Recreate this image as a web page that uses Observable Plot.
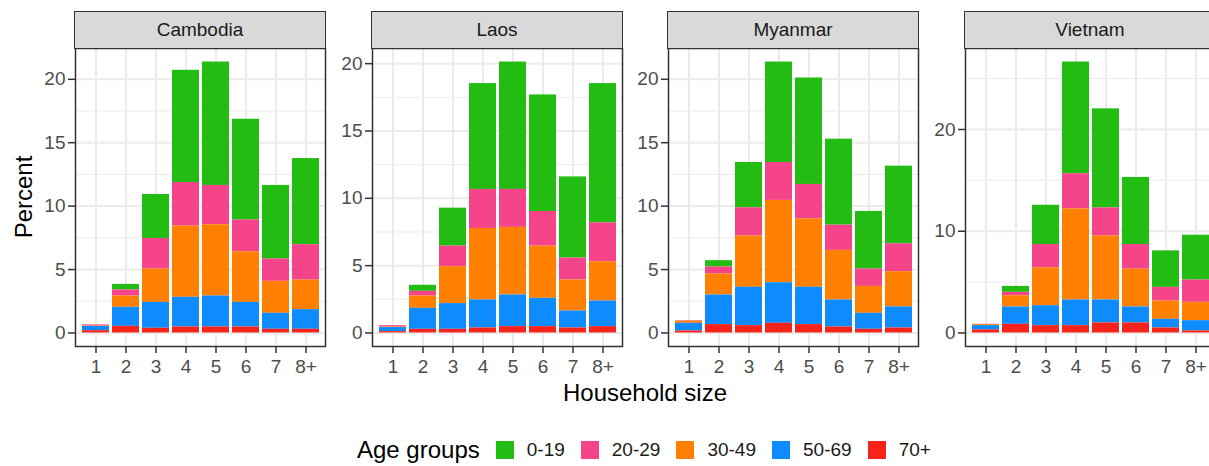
<!DOCTYPE html>
<html>
<head>
<meta charset="utf-8">
<script src="https://cdn.jsdelivr.net/npm/d3@7"></script>
<script src="https://cdn.jsdelivr.net/npm/@observablehq/plot@0.6"></script>
<style>
  html, body { margin: 0; padding: 0; background: #fff; }
  #chart { position: relative; width: 1209px; height: 466px; overflow: hidden; background: #fff;
           font-family: "Liberation Sans", Arial, Helvetica, sans-serif; }
  .panel { position: absolute; }
  .strip { position: absolute; box-sizing: border-box; height: 38px; background: #D9D9D9;
           border: 1.4px solid #333; color: #1A1A1A; font-size: 19px;
           display: flex; align-items: center; justify-content: center; }
  .ytitle { position: absolute; left: 24px; top: 197px; font-size: 24px; color: #000;
            transform: translate(-50%, -50%) rotate(-90deg); white-space: nowrap; }
  .xtitle { position: absolute; left: 645px; top: 393px; font-size: 24px; color: #000;
            transform: translate(-50%, -50%); white-space: nowrap; }
  .legend { position: absolute; left: 357px; top: 437px; display: flex; align-items: center; }
  .legend-title { font-size: 24px; line-height: 26px; color: #000; margin-right: 16px; white-space: nowrap; }
  .agelg-swatches { margin: 0 !important; min-height: 0 !important; }
  .agelg-swatch { margin-right: 16px !important; }
  .agelg-swatch > svg { margin-right: 13px !important; }
</style>
</head>
<body>
<div id="chart"></div>
<script>
// Household size categories and age groups (legend order, top of stack first)
const countries = ["Cambodia", "Laos", "Myanmar", "Vietnam"];
const sizes = ["1", "2", "3", "4", "5", "6", "7", "8+"];
const ageGroups = ["0-19", "20-29", "30-49", "50-69", "70+"];
const ageColors = ["#23BC13", "#F6448A", "#FF7F00", "#0E8BFF", "#F5231A"];
// stacking order, bottom to top
const stackOrder = ["70+", "50-69", "30-49", "20-29", "0-19"];

// Percent of population by age group (rows follow ageGroups) and household size (columns follow sizes)
const cambodia = [
  [0.01, 0.44, 3.47, 8.85, 9.73, 7.95, 5.80, 6.79],
  [0.09, 0.48, 2.41, 3.43, 3.10, 2.50, 1.76, 2.79],
  [0.03, 0.89, 2.63, 5.62, 5.62, 3.99, 2.52, 2.33],
  [0.33, 1.50, 2.04, 2.34, 2.44, 1.94, 1.26, 1.55],
  [0.18, 0.52, 0.37, 0.47, 0.47, 0.47, 0.29, 0.29]
];
const laos = [
  [0.00, 0.45, 2.82, 7.86, 9.46, 8.66, 6.03, 10.34],
  [0.10, 0.35, 1.53, 2.90, 2.82, 2.57, 1.63, 2.89],
  [0.04, 0.91, 2.74, 5.31, 5.02, 3.88, 2.30, 2.92],
  [0.30, 1.56, 1.91, 2.08, 2.35, 2.10, 1.26, 1.90],
  [0.10, 0.27, 0.27, 0.37, 0.47, 0.47, 0.37, 0.47]
];
const myanmar = [
  [0.00, 0.50, 3.57, 7.92, 8.39, 6.78, 4.54, 6.12],
  [0.04, 0.55, 2.23, 2.99, 2.71, 1.99, 1.37, 2.20],
  [0.17, 1.66, 4.04, 6.49, 5.40, 3.91, 2.12, 2.78],
  [0.60, 2.33, 3.02, 3.20, 2.94, 2.13, 1.26, 1.66],
  [0.16, 0.66, 0.58, 0.76, 0.66, 0.47, 0.29, 0.39]
];
const vietnam = [
  [0.00, 0.59, 3.86, 10.98, 9.74, 6.60, 3.59, 4.41],
  [0.03, 0.33, 2.28, 3.46, 2.75, 2.42, 1.34, 2.19],
  [0.10, 1.11, 3.73, 8.95, 6.30, 3.72, 1.80, 1.80],
  [0.42, 1.70, 1.96, 2.52, 2.26, 1.57, 0.85, 1.01],
  [0.30, 0.85, 0.72, 0.72, 0.98, 0.98, 0.49, 0.20]
];

// y-axis breaks (major labelled ticks, minor gridlines)
const yTicksFine = [0, 5, 10, 15, 20];
const yMinorFine = [2.5, 7.5, 12.5, 17.5];
const yTicksCoarse = [0, 10, 20];
const yMinorCoarse = [5, 15, 25];

const panels = [
  {name: countries[0], shares: cambodia, ticks: yTicksFine, minor: yMinorFine, left: 75},
  {name: countries[1], shares: laos, ticks: yTicksFine, minor: yMinorFine, left: 372},
  {name: countries[2], shares: myanmar, ticks: yTicksFine, minor: yMinorFine, left: 668},
  {name: countries[3], shares: vietnam, ticks: yTicksCoarse, minor: yMinorCoarse, left: 965}
];

const FONT = "'Liberation Sans', Arial, Helvetica, sans-serif";
const PANEL_W = 250, PANEL_H = 298, PANEL_TOP = 48;
const ML = 50, MR = 2, MT = 2, MB = 60;
const chart = document.getElementById("chart");

for (const p of panels) {
  const rows = [];
  ageGroups.forEach((age, i) => sizes.forEach((s, j) => {
    rows.push({size: s, age, value: p.shares[i][j]});
  }));
  const ymax = d3.max(sizes, (s, j) => d3.sum(p.shares, r => r[j]));

  const svg = Plot.plot({
    width: ML + PANEL_W + MR,
    height: MT + PANEL_H + MB,
    marginLeft: ML, marginRight: MR, marginTop: MT, marginBottom: MB,
    style: {fontFamily: FONT, fontSize: "19px", background: "transparent", overflow: "visible"},
    x: {type: "band", domain: sizes, paddingInner: 0.1, paddingOuter: 0.15, axis: null},
    y: {domain: [-0.05 * ymax, 1.05 * ymax], axis: null},
    color: {domain: ageGroups, range: ageColors},
    marks: [
      Plot.gridY({ticks: p.minor, stroke: "#EBEBEB", strokeOpacity: 1, strokeWidth: 1}),
      Plot.gridY({ticks: p.ticks, stroke: "#EBEBEB", strokeOpacity: 1, strokeWidth: 2}),
      Plot.gridX({stroke: "#EBEBEB", strokeOpacity: 1, strokeWidth: 2}),
      Plot.barY(rows, {x: "size", y: "value", fill: "age", order: stackOrder}),
      Plot.frame({stroke: "#333", strokeWidth: 1.5}),
      Plot.axisY({ticks: p.ticks, tickSize: 7, tickPadding: 3, fontSize: 19,
                  stroke: "#333", strokeWidth: 1.5, fill: "#4D4D4D", label: null}),
      Plot.axisX({tickSize: 7, tickPadding: 6, fontSize: 19,
                  stroke: "#333", strokeWidth: 1.5, fill: "#4D4D4D", label: null})
    ]
  });
  svg.classList.add("panel");
  svg.style.left = (p.left - ML) + "px";
  svg.style.top = (PANEL_TOP - MT) + "px";
  chart.appendChild(svg);

  const strip = document.createElement("div");
  strip.className = "strip";
  strip.style.left = (p.left - 0.7) + "px";
  strip.style.top = "11px";
  strip.style.width = (PANEL_W + 1.4) + "px";
  strip.textContent = p.name;
  chart.appendChild(strip);
}

// axis titles
const yTitle = document.createElement("div");
yTitle.className = "ytitle";
yTitle.textContent = "Percent";
chart.appendChild(yTitle);

const xTitle = document.createElement("div");
xTitle.className = "xtitle";
xTitle.textContent = "Household size";
chart.appendChild(xTitle);

// legend
const legend = document.createElement("div");
legend.className = "legend";
const lt = document.createElement("span");
lt.className = "legend-title";
lt.textContent = "Age groups";
legend.appendChild(lt);
legend.appendChild(Plot.legend({
  color: {domain: ageGroups, range: ageColors},
  legend: "swatches",
  swatchSize: 18,
  className: "agelg",
  style: {fontFamily: FONT, fontSize: "19px", color: "#1A1A1A"}
}));
chart.appendChild(legend);
</script>
</body>
</html>
